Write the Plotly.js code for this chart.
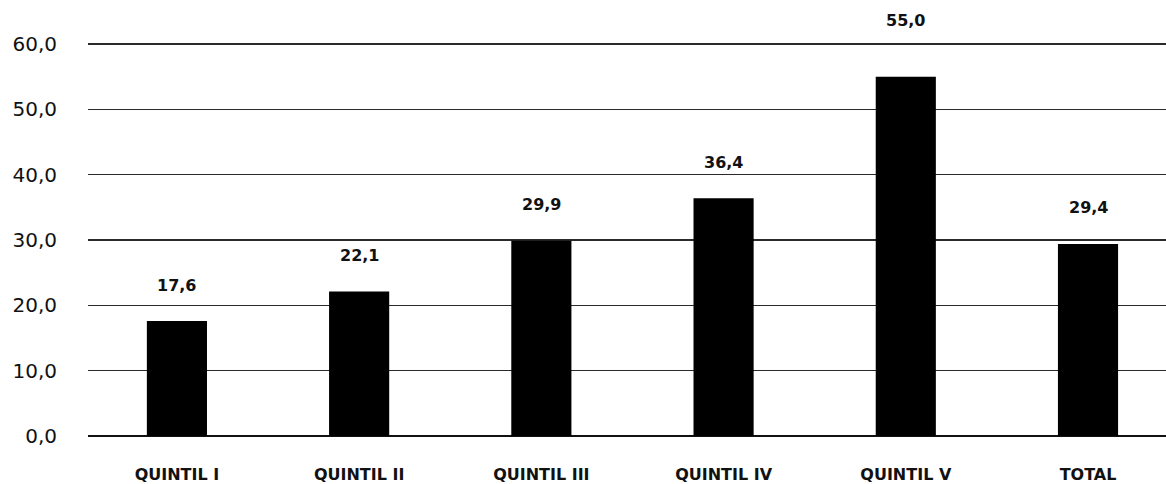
<!DOCTYPE html>
<html>
<head>
<meta charset="utf-8">
<script src="https://cdn.plot.ly/plotly-3.0.1.min.js"></script>
<style>html,body{margin:0;padding:0;background:#fff;}#chart{width:1166px;height:484px;}</style>
</head>
<body>
<div id="chart"></div>
<script>
const categories = ["QUINTIL I", "QUINTIL II", "QUINTIL III", "QUINTIL IV", "QUINTIL V", "TOTAL"];
const values = [17.6, 22.1, 29.9, 36.4, 55.0, 29.4];
const yTicks = [0, 10, 20, 30, 40, 50, 60];

const FONT = "'DejaVu Sans', 'Noto Sans', sans-serif";

const trace = {
  type: "bar",
  x: categories,
  y: values,
  width: 0.33,
  marker: {color: "#000000"},
  hoverinfo: "x+y"
};

const annotations = values.map((v, i) => ({
  x: categories[i],
  y: v,
  xref: "x",
  yref: "y",
  text: "<b>" + v.toFixed(1).replace(".", ",") + "</b>",
  showarrow: false,
  yanchor: "middle",
  yshift: v > 50 ? 56 : 36,
  font: {family: FONT, size: 16, color: "#111"}
}));

const layout = {
  width: 1166,
  height: 484,
  margin: {l: 88, r: 0, t: 42, b: 48},
  paper_bgcolor: "#ffffff",
  plot_bgcolor: "#ffffff",
  separators: ",.",
  showlegend: false,
  xaxis: {
    type: "category",
    range: [-0.488, 5.428],
    showgrid: false,
    zeroline: false,
    showline: false,
    ticks: "",
    ticklabelstandoff: 27,
    tickfont: {family: FONT, size: 16, color: "#111", weight: "bold"}
  },
  yaxis: {
    range: [0, 60.3],
    tickvals: yTicks,
    tickformat: ".1f",
    showgrid: true,
    gridcolor: "#2a2a2a",
    gridwidth: 1.6,
    zeroline: true,
    zerolinecolor: "#111111",
    zerolinewidth: 2.5,
    showline: false,
    ticks: "",
    ticklabelstandoff: 30,
    tickfont: {family: FONT, size: 20, color: "#111"}
  },
  annotations: annotations
};

Plotly.newPlot("chart", [trace], layout, {displayModeBar: false, staticPlot: true});
</script>
</body>
</html>
